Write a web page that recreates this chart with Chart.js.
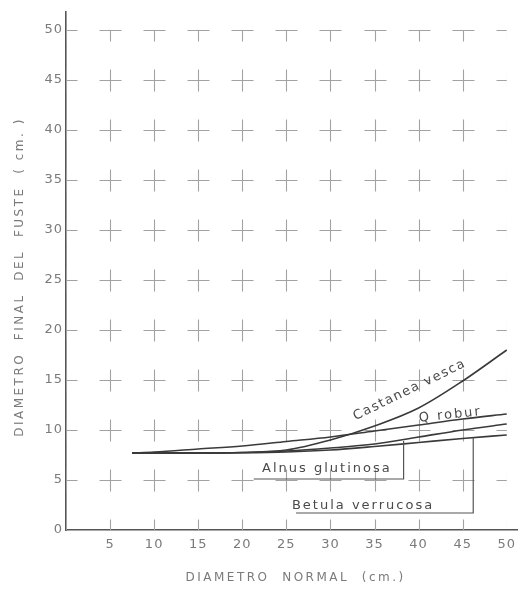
<!DOCTYPE html>
<html lang="es">
<head>
  <meta charset="UTF-8">
  <title>Diametro final del fuste</title>
  <script src="https://cdn.jsdelivr.net/npm/chart.js"></script>
  <style>
    html, body {
      margin: 0;
      padding: 0;
      background: #ffffff;
    }
    canvas {
      display: block;
    }
  </style>
</head>
<body>
  <canvas id="fusteChart" width="522" height="592"></canvas>

  <script>
    // diametro normal (cm) and diametro final del fuste (cm)
    const diametroNormal = [7.5, 10, 15, 20, 25, 30, 35, 40, 45, 50];
    const castaneaVesca = [7.7, 7.7, 7.7, 7.75, 8.0, 9.0, 10.4, 12.2, 14.9, 18.0];
    const quercusRobur = [7.7, 7.8, 8.1, 8.4, 8.85, 9.3, 9.9, 10.5, 11.1, 11.6];
    const alnusGlutinosa = [7.7, 7.7, 7.7, 7.75, 7.9, 8.2, 8.6, 9.3, 10.0, 10.6];
    const betulaVerrucosa = [7.7, 7.7, 7.7, 7.72, 7.8, 8.0, 8.35, 8.75, 9.15, 9.5];

    const xTickValues = [0, 5, 10, 15, 20, 25, 30, 35, 40, 45, 50];
    const yTickValues = [0, 5, 10, 15, 20, 25, 30, 35, 40, 45, 50];

    const xTitle = 'DIAMETRO  NORMAL  (cm.)';
    const yTitle = 'DIAMETRO  FINAL  DEL  FUSTE  ( cm. )';

    const ink = '#3a3a3a';
    const grey = '#7a7a7a';
    const fontFamily = '"DejaVu Sans", sans-serif';

    function series(values) {
      return diametroNormal.map((x, i) => ({ x: x, y: values[i] }));
    }

    function curve(label, values) {
      return {
        label: label,
        data: series(values),
        borderColor: ink,
        borderWidth: 1.6,
        pointRadius: 0,
        fill: false,
        cubicInterpolationMode: 'monotone'
      };
    }

    // crosses at every grid intersection, clipped to the 0-50 square
    const crossGrid = {
      id: 'crossGrid',
      beforeDraw(chart) {
        chart.ctx.letterSpacing = '1px';
      },
      beforeDatasetsDraw(chart) {
        const ctx = chart.ctx;
        const xs = chart.scales.x;
        const ys = chart.scales.y;
        const arm = 11;
        const x0 = xs.getPixelForValue(0), x1 = xs.getPixelForValue(50);
        const y0 = ys.getPixelForValue(0), y1 = ys.getPixelForValue(50);
        ctx.save();
        ctx.beginPath();
        ctx.rect(x0, y1, x1 - x0, y0 - y1);
        ctx.clip();
        ctx.strokeStyle = '#a2a2a2';
        ctx.lineWidth = 1.1;
        ctx.beginPath();
        xs.ticks.forEach(tx => {
          ys.ticks.forEach(ty => {
            const px = Math.round(xs.getPixelForValue(tx.value)) + 0.5;
            const py = Math.round(ys.getPixelForValue(ty.value)) + 0.5;
            ctx.moveTo(px - arm, py);
            ctx.lineTo(px + arm, py);
            ctx.moveTo(px, py - arm);
            ctx.lineTo(px, py + arm);
          });
        });
        ctx.stroke();
        ctx.restore();
      }
    };

    // spaced-out axis titles, drawn in the room the scales leave
    const axisTitles = {
      id: 'axisTitles',
      afterDraw(chart) {
        const ctx = chart.ctx;
        const xs = chart.scales.x;
        const ys = chart.scales.y;
        ctx.save();
        ctx.fillStyle = grey;
        ctx.font = '12px ' + fontFamily;
        ctx.letterSpacing = '2.5px';
        ctx.textAlign = 'center';
        ctx.textBaseline = 'middle';
        ctx.fillText(xTitle, (xs.left + xs.right) / 2 + 4, xs.bottom - 14);
        ctx.translate(ys.left + 20, (ys.top + ys.bottom) / 2 + 6);
        ctx.rotate(-Math.PI / 2);
        ctx.fillText(yTitle, 0, 0);
        ctx.restore();
      }
    };

    // species names with their leader lines
    const speciesLabels = {
      id: 'speciesLabels',
      afterDatasetsDraw(chart) {
        const ctx = chart.ctx;
        const xs = chart.scales.x;
        const ys = chart.scales.y;
        const X = v => xs.getPixelForValue(v);
        const Y = v => ys.getPixelForValue(v);

        ctx.save();
        ctx.fillStyle = '#4a4a4a';
        ctx.strokeStyle = '#555555';
        ctx.lineWidth = 1.2;
        ctx.font = '13px ' + fontFamily;
        ctx.textAlign = 'center';
        ctx.textBaseline = 'middle';

        function rotated(text, x, y, deg) {
          ctx.save();
          ctx.translate(X(x), Y(y));
          ctx.rotate(deg * Math.PI / 180);
          ctx.fillText(text, 0, 0);
          ctx.restore();
        }

        ctx.letterSpacing = '1.5px';
        rotated('Castanea vesca', 39.0, 14.0, -26);
        ctx.letterSpacing = '2px';
        rotated('Q robur', 43.6, 11.5, -6);

        ctx.fillText('Alnus glutinosa', X(29.6), Y(6.1));
        ctx.fillText('Betula verrucosa', X(33.7), Y(2.4));

        ctx.beginPath();
        ctx.moveTo(X(21.3), Y(5.1));
        ctx.lineTo(X(38.3), Y(5.1));
        ctx.lineTo(X(38.3), Y(8.9));
        ctx.moveTo(X(26.1), Y(1.7));
        ctx.lineTo(X(46.2), Y(1.7));
        ctx.lineTo(X(46.2), Y(9.2));
        ctx.stroke();
        ctx.restore();
      }
    };

    new Chart(document.getElementById('fusteChart'), {
      type: 'line',
      data: {
        datasets: [
          curve('Castanea vesca', castaneaVesca),
          curve('Q robur', quercusRobur),
          curve('Alnus glutinosa', alnusGlutinosa),
          curve('Betula verrucosa', betulaVerrucosa)
        ]
      },
      options: {
        responsive: false,
        animation: false,
        layout: { padding: { top: 12, left: 0, right: 0, bottom: 0 } },
        plugins: {
          legend: { display: false },
          tooltip: { enabled: false }
        },
        scales: {
          x: {
            type: 'linear',
            min: 0,
            max: 51.2,
            afterBuildTicks: axis => { axis.ticks = xTickValues.map(v => ({ value: v })); },
            afterFit: axis => { axis.height = 62; },
            grid: { display: false, drawTicks: false },
            border: { display: true, color: '#555555', width: 1.6 },
            ticks: {
              padding: 7,
              color: grey,
              font: { family: fontFamily, size: 13 },
              maxRotation: 0,
              callback: v => (v === 0 ? '' : v)
            }
          },
          y: {
            type: 'linear',
            min: 0,
            max: 51.8,
            afterBuildTicks: axis => { axis.ticks = yTickValues.map(v => ({ value: v })); },
            afterFit: axis => { axis.width = 66; },
            grid: { display: false, drawTicks: false },
            border: { display: true, color: '#555555', width: 1.6 },
            ticks: {
              padding: 3,
              color: grey,
              font: { family: fontFamily, size: 13 }
            }
          }
        }
      },
      plugins: [crossGrid, speciesLabels, axisTitles]
    });
  </script>
</body>
</html>
